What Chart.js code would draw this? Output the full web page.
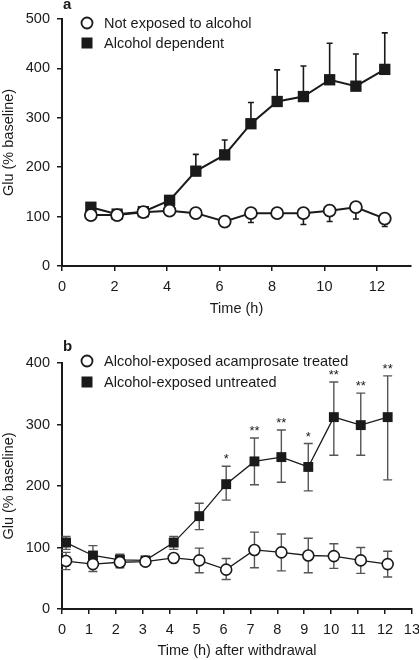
<!DOCTYPE html>
<html>
<head>
<meta charset="utf-8">
<script src="https://cdn.jsdelivr.net/npm/chart.js@4"></script>
<style>
body{margin:0;background:#fff;width:419px;height:660px;overflow:hidden;position:relative}
.box{position:absolute;left:0;width:419px}
</style>
</head>
<body>
<div class="box" style="top:0;height:320px"><canvas id="chartA" width="419" height="320"></canvas></div>
<div class="box" style="top:320px;height:340px"><canvas id="chartB" width="419" height="340"></canvas></div>
<script>
// panel a: glutamate over time (not exposed vs dependent)
const timeA = [1.1, 2.1, 3.1, 4.1, 5.1, 6.2, 7.2, 8.2, 9.2, 10.2, 11.2, 12.3];
const notExposed = [103, 103, 109, 112, 107, 90, 107, 107, 107, 112, 119, 96];
const notExposedHi = [null, null, null, null, null, null, null, 115, null, null, null, null];
const notExposedLo = [null, null, null, null, null, null, 88, null, 84, 90, 95, 80];
const dependent = [119, 105, 110, 133, 192, 225, 288, 333, 343, 377, 364, 398];
const dependentHi = [null, null, null, null, 226, 255, 331, 397, 405, 451, 429, 472];

// panel b: after withdrawal (acamprosate vs untreated)
const timeB = [0.15, 1.15, 2.15, 3.1, 4.15, 5.1, 6.1, 7.15, 8.15, 9.15, 10.1, 11.1, 12.1];
const treated = [78, 73, 76, 77, 83, 79, 64, 96, 92, 87, 86, 79, 73];
const treatedHi = [92, 83, 85, 81, 88, 99, 82, 125, 122, 115, 106, 100, 94];
const treatedLo = [64, 61, 67, 73, 78, 59, 48, 67, 62, 59, 66, 58, 52];
const untreated = [108, 87, 80, 79, 108, 151, 203, 240, 247, 231, 312, 299, 312];
const untreatedHi = [118, 103, 89, 83, 118, 172, 232, 278, 291, 269, 369, 351, 379];
const untreatedLo = [97, 80, 72, 75, 97, 129, 177, 202, 206, 192, 250, 250, 210];
const stars = ['', '', '', '', '', '', '*', '**', '**', '*', '**', '**', '**'];

const yTicksA = [0, 100, 200, 300, 400, 500];
const xTicksA = [0, 2, 4, 6, 8, 10, 12];
const yTicksB = [0, 100, 200, 300, 400];
const xTicksB = [0, 1, 2, 3, 4, 5, 6, 7, 8, 9, 10, 11, 12, 13];

const FONT = '"Liberation Sans", Arial, Helvetica, sans-serif';
const INK = '#1a1a1a';

const pts = (xs, ys) => xs.map((x, i) => ({ x: x, y: ys[i] }));

const errorBars = {
  id: 'errorBars',
  beforeDatasetsDraw(chart, args, opts) {
    const { ctx } = chart;
    const x = chart.scales.x, y = chart.scales.y;
    ctx.save();
    ctx.strokeStyle = opts.color;
    ctx.lineWidth = opts.width;
    chart.data.datasets.forEach(ds => {
      ds.data.forEach((p, i) => {
        const px = x.getPixelForValue(p.x);
        const py = y.getPixelForValue(p.y);
        [ds.errHi && ds.errHi[i], ds.errLo && ds.errLo[i]].forEach(v => {
          if (v == null) return;
          const ey = y.getPixelForValue(v);
          ctx.beginPath();
          ctx.moveTo(px, py); ctx.lineTo(px, ey);
          ctx.moveTo(px - opts.cap, ey); ctx.lineTo(px + opts.cap, ey);
          ctx.stroke();
        });
      });
    });
    ctx.restore();
  }
};

const starMarks = {
  id: 'starMarks',
  afterDatasetsDraw(chart, args, opts) {
    if (!opts.labels) return;
    const { ctx } = chart;
    const x = chart.scales.x, y = chart.scales.y;
    ctx.save();
    ctx.fillStyle = INK;
    ctx.font = '13px ' + FONT;
    ctx.textAlign = 'center';
    ctx.textBaseline = 'alphabetic';
    opts.labels.forEach((s, i) => {
      if (!s) return;
      ctx.fillText(s, x.getPixelForValue(opts.xs[i]), y.getPixelForValue(opts.tops[i]) - 3);
    });
    ctx.restore();
  }
};

const keyBox = {
  id: 'keyBox',
  afterDraw(chart, args, opts) {
    const { ctx } = chart;
    ctx.save();
    ctx.fillStyle = INK;
    ctx.font = 'bold 15px ' + FONT;
    ctx.textBaseline = 'middle';
    ctx.fillText(opts.panel, opts.panelX, opts.panelY);
    ctx.font = '14.5px ' + FONT;
    chart.data.datasets.forEach((ds, i) => {
      const cy = opts.y + i * opts.dy;
      ctx.lineWidth = 1.8;
      ctx.strokeStyle = INK;
      if (ds.pointStyle === 'rect') {
        ctx.fillStyle = INK;
        ctx.fillRect(opts.x - 5.5, cy - 5.5, 11, 11);
      } else {
        ctx.beginPath();
        ctx.arc(opts.x, cy, 5.5, 0, Math.PI * 2);
        ctx.fillStyle = '#fff';
        ctx.fill();
        ctx.stroke();
      }
      ctx.fillStyle = INK;
      ctx.fillText(ds.label, opts.textX, cy + 0.5);
    });
    ctx.restore();
  }
};

function axes(xMax, xTicks, yMax, yTicks, xTitle, xH, titlePad) {
  const grid = { display: true, drawOnChartArea: false, drawTicks: true, tickLength: 5, color: INK, lineWidth: 1.5 };
  const border = { display: true, color: INK, width: 2 };
  const tickFont = { family: FONT, size: 14.5 };
  return {
    x: {
      type: 'linear', min: 0, max: xMax, bounds: 'data',
      afterFit: s => { s.height = xH; s.paddingLeft = 0; s.paddingRight = 0; },
      afterBuildTicks: s => { s.min = 0; s.max = xMax; s.ticks = xTicks.map(v => ({ value: v })); },
      ticks: { color: INK, font: tickFont, padding: 7, maxRotation: 0 },
      grid: grid, border: border,
      title: { display: true, text: xTitle, color: INK, font: { family: FONT, size: 14.5 }, padding: { top: 0, bottom: titlePad } }
    },
    y: {
      type: 'linear', min: 0, max: yMax, bounds: 'data',
      afterFit: s => { s.width = 62; },
      afterBuildTicks: s => { s.min = 0; s.max = yMax; s.ticks = yTicks.map(v => ({ value: v })); },
      ticks: { color: INK, font: tickFont, padding: 7 },
      grid: grid, border: border,
      title: { display: true, text: 'Glu (% baseline)', color: INK, font: { family: FONT, size: 14.5 }, padding: { top: 0, bottom: 0 } }
    }
  };
}

new Chart(document.getElementById('chartA'), {
  type: 'scatter',
  data: {
    datasets: [
      {
        label: 'Not exposed to alcohol', data: pts(timeA, notExposed), errHi: notExposedHi, errLo: notExposedLo,
        showLine: true, borderColor: INK, borderWidth: 2, pointStyle: 'circle', pointRadius: 6,
        pointBackgroundColor: '#fff', pointBorderColor: INK, pointBorderWidth: 1.8
      },
      {
        label: 'Alcohol dependent', data: pts(timeA, dependent), errHi: dependentHi,
        showLine: true, borderColor: INK, borderWidth: 2, pointStyle: 'rect', pointRadius: 8,
        pointBackgroundColor: INK, pointBorderColor: INK, pointBorderWidth: 0
      }
    ]
  },
  options: {
    responsive: false, animation: false, devicePixelRatio: 1,
    layout: { padding: { top: 19, right: 1, left: 0, bottom: 0 } },
    scales: axes(13.3, xTicksA, 500, yTicksA, 'Time (h)', 54, 2),
    plugins: {
      legend: { display: false }, tooltip: { enabled: false },
      errorBars: { color: INK, width: 1.6, cap: 3 },
      keyBox: { panel: 'a', panelX: 63, panelY: 5, x: 87, y: 23, dy: 20, textX: 104 }
    }
  },
  plugins: [errorBars, keyBox]
});

new Chart(document.getElementById('chartB'), {
  type: 'scatter',
  data: {
    datasets: [
      {
        label: 'Alcohol-exposed acamprosate treated', data: pts(timeB, treated), errHi: treatedHi, errLo: treatedLo,
        showLine: true, borderColor: INK, borderWidth: 1.3, pointStyle: 'circle', pointRadius: 5.5,
        pointBackgroundColor: '#fff', pointBorderColor: INK, pointBorderWidth: 1.6
      },
      {
        label: 'Alcohol-exposed untreated', data: pts(timeB, untreated), errHi: untreatedHi, errLo: untreatedLo,
        showLine: true, borderColor: INK, borderWidth: 1.3, pointStyle: 'rect', pointRadius: 7,
        pointBackgroundColor: INK, pointBorderColor: INK, pointBorderWidth: 0
      }
    ]
  },
  options: {
    responsive: false, animation: false, devicePixelRatio: 1,
    layout: { padding: { top: 43, right: 6, left: 0, bottom: 0 } },
    scales: axes(13, xTicksB, 400, yTicksB, 'Time (h) after withdrawal', 51, 0),
    plugins: {
      legend: { display: false }, tooltip: { enabled: false },
      errorBars: { color: '#555', width: 1.4, cap: 4.5 },
      starMarks: { labels: stars, xs: timeB, tops: untreatedHi },
      keyBox: { panel: 'b', panelX: 63, panelY: 27, x: 87, y: 41, dy: 21, textX: 104 }
    }
  },
  plugins: [errorBars, starMarks, keyBox]
});
</script>
</body>
</html>
